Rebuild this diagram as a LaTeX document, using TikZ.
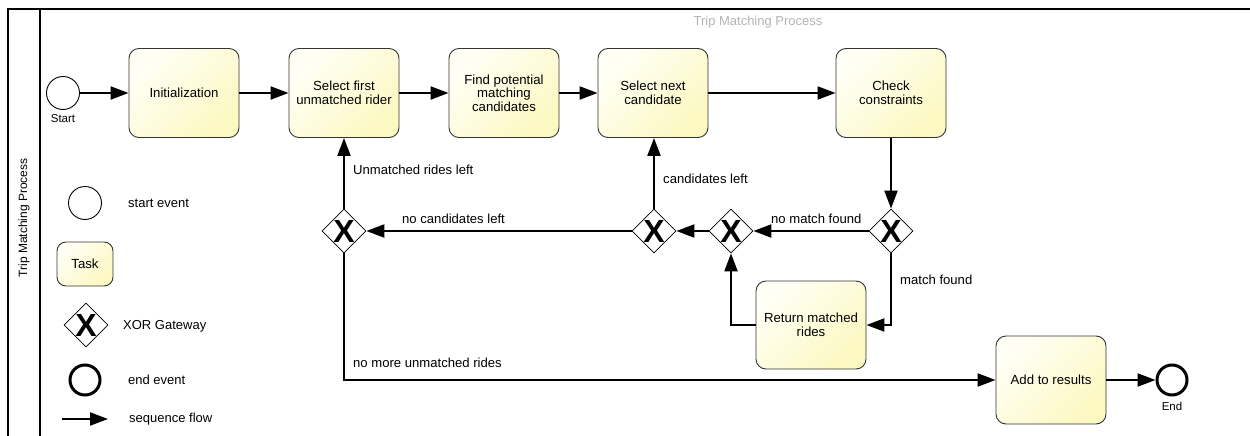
\documentclass[tikz,border=0pt]{standalone}
\usepackage{fontspec}
\setmainfont{Liberation Sans}
\usetikzlibrary{arrows.meta,shapes.geometric}
\definecolor{taskA}{HTML}{FFFFF6}
\definecolor{taskB}{HTML}{FCF8C2}
\definecolor{titlegray}{HTML}{B4B4B4}
\begin{document}
\begin{tikzpicture}[x=1pt,y=-1pt,
  task/.style={draw=black!80, line width=0.9pt, rounded corners=10pt,
    minimum width=110pt, minimum height=89pt, align=center, inner sep=2pt,
    font=\fontsize{13.2}{13.5}\selectfont,
    top color=taskA, bottom color=taskB, shading angle=45},
  gw/.style={diamond, draw=black, line width=0.8pt, fill=white,
    minimum width=44pt, minimum height=44pt, inner sep=0pt},
  xmark/.style={font=\fontsize{32}{32}\selectfont\bfseries, inner sep=0pt},
  startev/.style={circle, draw=black, line width=0.9pt, fill=white,
    minimum size=33pt, inner sep=0pt},
  endev/.style={circle, draw=black, line width=3pt, fill=white,
    minimum size=30pt, inner sep=0pt},
  flow/.style={line width=2.2pt, -{Triangle[length=18pt,width=13pt]}},
  lbl/.style={font=\fontsize{13.1}{15}\selectfont, inner sep=0pt},
  leg/.style={font=\fontsize{13}{15}\selectfont, inner sep=0pt, anchor=west},
  frame/.style={line width=1.2pt}
]
\useasboundingbox (0,0) rectangle (1250,436);
% pool frame
\coordinate (ftl) at (8,9);
\coordinate (ftr) at (1250,9);
\coordinate (fbl) at (8,436);
\coordinate (dtop) at (40,9);
\coordinate (dbot) at (40,436);
\draw[frame] (fbl) -- (ftl) -- (ftr);
\draw[frame] (dtop) -- (dbot);
\node[rotate=90, font=\fontsize{12}{13}\selectfont] (lane) at (24,218) {Trip Matching Process};
\node[font=\fontsize{13}{14}\selectfont, text=titlegray] (title) at (758,22) {Trip Matching Process};

% main flow
\node[startev] (start) at (63,93) {};
\node[font=\fontsize{11.5}{13}\selectfont] (startlbl) at (63,119) {Start};
\node[task] (init) at (184,93) {Initialization};
\node[task] (sel1) at (344,93) {Select first\\unmatched rider};
\node[task] (find) at (504,93) {Find potential\\matching\\candidates};
\node[task] (seln) at (653,93) {Select next\\candidate};
\node[task] (check) at (891,93) {Check\\constraints};

\node[gw] (g1) at (344,231) {};
\node[xmark] (g1x) at (g1) {X};
\node[gw] (g2) at (654,231) {};
\node[xmark] (g2x) at (g2) {X};
\node[gw] (g3) at (731,231) {};
\node[xmark] (g3x) at (g3) {X};
\node[gw] (g4) at (891,231) {};
\node[xmark] (g4x) at (g4) {X};

\node[task, minimum height=88pt] (ret) at (811,325) {Return matched\\rides};
\node[task, minimum height=88pt] (add) at (1051,380) {Add to results};
\node[endev] (end) at (1172,380) {};
\node[font=\fontsize{11.5}{13}\selectfont] (endlbl) at (1172,406) {End};

\draw[flow] (start) -- (init);
\draw[flow] (init) -- (sel1);
\draw[flow] (sel1) -- (find);
\draw[flow] (find) -- (seln);
\draw[flow] (seln) -- (check);
\draw[flow] (check) -- (g4);
\draw[flow] (g4) -- (g3);
\draw[flow] (g3) -- (g2);
\draw[flow] (g2) -- (g1);
\draw[flow] (g2.north) -- (g2.north |- seln.south);
\draw[flow] (g1) -- (sel1);
\draw[flow] (g4.south) |- (ret.east);
\draw[flow] (ret.west) -| (g3.south);
\draw[flow] (g1.south) |- (add.west);
\draw[flow] (add) -- (end);

\node[lbl, anchor=west] (l1) at (353,170) {Unmatched rides left};
\node[lbl, anchor=west] (l2) at (402,219) {no candidates left};
\node[lbl, anchor=west] (l3) at (663,179) {candidates left};
\node[lbl, anchor=west] (l4) at (771,219) {no match found};
\node[lbl, anchor=west] (l5) at (900,280) {match found};
\node[lbl, anchor=west] (l6) at (353,363) {no more unmatched rides};

% legend
\node[startev] (lgstart) at (85,203) {};
\node[leg] (lgstartt) at (128,203) {start event};
\node[task, minimum width=56pt, minimum height=44pt, rounded corners=9pt] (lgtask) at (85,264) {Task};
\node[gw] (lggw) at (86,325) {};
\node[xmark] (lggwx) at (lggw) {X};
\node[leg] (lggwt) at (123,326) {XOR Gateway};
\node[endev] (lgend) at (85,380) {};
\node[leg] (lgendt) at (128,380) {end event};
\coordinate (lsa) at (62,419);
\coordinate (lsb) at (108,419);
\draw[flow] (lsa) -- (lsb);
\node[leg] (lgseqt) at (129,419) {sequence flow};
\end{tikzpicture}
\end{document}
